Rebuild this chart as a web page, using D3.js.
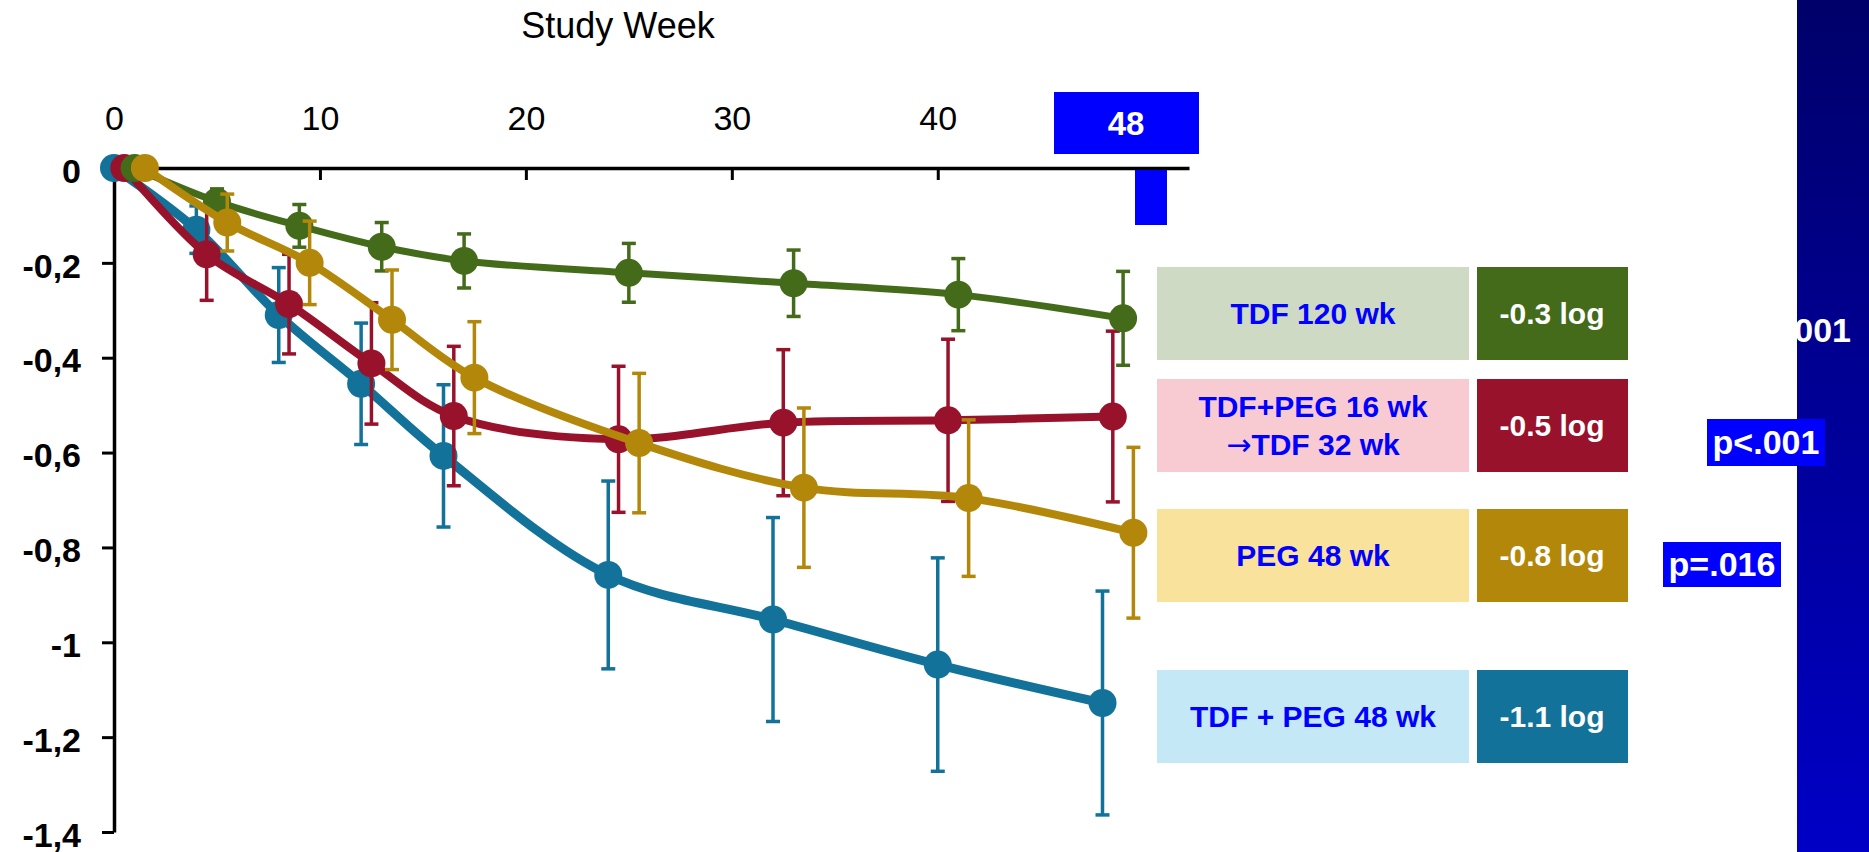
<!DOCTYPE html>
<html>
<head>
<meta charset="utf-8">
<script src="https://cdn.jsdelivr.net/npm/d3@7"></script>
<style>
  html, body { margin: 0; padding: 0; background: #fff; }
  svg { display: block; font-family: "Liberation Sans", Arial, sans-serif; }
</style>
</head>
<body>
<svg id="chart" width="1869" height="852"></svg>
<script>
// Study visits (weeks) and per-arm change from baseline (log10), with error half-widths
const weeks = [0, 4, 8, 12, 16, 24, 32, 40, 48];
const xTicks = [0, 10, 20, 30, 40, 50];
const yTicks = [0, -0.2, -0.4, -0.6, -0.8, -1, -1.2, -1.4];

const armNames = ["TDF + PEG 48 wk", "TDF+PEG 16 wk\n\u2192TDF 32 wk", "TDF 120 wk", "PEG 48 wk"];
const armOffsets = [0, 0.5, 1, 1.5];

const tdfPeg48 = [0, -0.13, -0.31, -0.455, -0.607, -0.858, -0.952, -1.047, -1.128];
const tdfPeg48Err = [0, 0.05, 0.1, 0.128, 0.15, 0.198, 0.215, 0.225, 0.236];

const tdfPeg16 = [0, -0.182, -0.287, -0.412, -0.523, -0.572, -0.537, -0.532, -0.524];
const tdfPeg16Err = [0, 0.097, 0.105, 0.128, 0.147, 0.154, 0.154, 0.171, 0.18];

const tdf120 = [0, -0.071, -0.122, -0.166, -0.196, -0.221, -0.243, -0.267, -0.317];
const tdf120Err = [0, 0.027, 0.045, 0.051, 0.057, 0.062, 0.07, 0.076, 0.099];

const peg48 = [0, -0.115, -0.2, -0.32, -0.442, -0.58, -0.674, -0.696, -0.769];
const peg48Err = [0, 0.06, 0.088, 0.105, 0.118, 0.147, 0.168, 0.165, 0.18];

const pValues = ["p<.001", "p<.001", "p=.016"];

// Styling
const armColors = ["#137299", "#98122C", "#436B1A", "#B3880A"];
const armLight = ["#C5E8F7", "#F8CAD2", "#CFDAC4", "#F8E29C"];
const armWidths = [9, 8, 7, 8];

const svg = d3.select("#chart");

const x = d3.scaleLinear().domain([0, 52.2]).range([114, 1189]);
const y = d3.scaleLinear().domain([0, -1.4]).range([168, 832]);

const commaLocale = d3.formatLocale({decimal: ",", thousands: ".", grouping: [3], currency: ["", ""], minus: "-"});
const dotLocale = d3.formatLocale({decimal: ".", thousands: ",", grouping: [3], currency: ["", ""], minus: "-"});

// Right-hand navy band
const defs = svg.append("defs");
const grad = defs.append("linearGradient").attr("id", "band").attr("x1", 0).attr("y1", 0).attr("x2", 0).attr("y2", 1);
grad.append("stop").attr("offset", "0%").attr("stop-color", "#00006A");
grad.append("stop").attr("offset", "100%").attr("stop-color", "#0000C6");
svg.append("rect").attr("x", 1797).attr("y", 0).attr("width", 72).attr("height", 852).attr("fill", "url(#band)");

// Title
svg.append("text").attr("x", 618).attr("y", 38).attr("text-anchor", "middle")
  .attr("font-size", 36).attr("fill", "#000").text("Study Week");

// X axis along the top, ticks pointing down into the plot
const xAxis = svg.append("g").attr("transform", `translate(0,${y(0)})`)
  .call(d3.axisTop(x).tickValues(xTicks).tickSizeInner(-12).tickSizeOuter(0).tickPadding(38)
    .tickFormat(d => d === 50 ? "" : d3.format("d")(d)));
xAxis.select(".domain").attr("stroke", "#000").attr("stroke-width", 3.5);
xAxis.selectAll(".tick line").attr("stroke", "#000").attr("stroke-width", 3);
xAxis.selectAll(".tick text").attr("font-size", 34).attr("fill", "#000").attr("font-family", "Liberation Sans, Arial");

// Y axis
const yAxis = svg.append("g").attr("transform", `translate(${x(0)},0)`)
  .call(d3.axisLeft(y).tickValues(yTicks).tickSizeInner(12).tickSizeOuter(0).tickPadding(21)
    .tickFormat(commaLocale.format("~f")));
yAxis.select(".domain").attr("stroke", "#000").attr("stroke-width", 3.5);
yAxis.selectAll(".tick line").attr("stroke", "#000").attr("stroke-width", 3);
yAxis.selectAll(".tick text").attr("font-size", 34).attr("font-weight", "bold").attr("fill", "#000")
  .attr("dy", "0.42em").attr("font-family", "Liberation Sans, Arial");

// Highlight of week 48
const hx = 1126;
svg.append("rect").attr("x", 1054).attr("y", 92).attr("width", 145).attr("height", 62).attr("fill", "#0000FF");
svg.append("text").attr("x", hx).attr("y", 135).attr("text-anchor", "middle")
  .attr("font-size", 33).attr("font-weight", "bold").attr("fill", "#fff").text("48");
svg.append("rect").attr("x", 1135).attr("y", 170).attr("width", 32).attr("height", 55).attr("fill", "#0000FF");

// Series
const arms = [
  {name: armNames[0], values: tdfPeg48, err: tdfPeg48Err},
  {name: armNames[1], values: tdfPeg16, err: tdfPeg16Err},
  {name: armNames[2], values: tdf120, err: tdf120Err},
  {name: armNames[3], values: peg48, err: peg48Err}
].map((a, i) => ({
  ...a,
  color: armColors[i],
  light: armLight[i],
  width: armWidths[i],
  points: weeks.map((w, j) => ({w: w + armOffsets[i], v: a.values[j], e: a.err[j]}))
}));

const line = d3.line().x(d => x(d.w)).y(d => y(d.v)).curve(d3.curveCatmullRom.alpha(0.5));
const cap = 7;

const seriesG = svg.append("g");
arms.forEach(a => {
  const g = seriesG.append("g");
  const bars = a.points.filter(d => d.e > 0);
  g.selectAll("line.bar").data(bars).join("line")
    .attr("x1", d => x(d.w)).attr("x2", d => x(d.w))
    .attr("y1", d => y(d.v + d.e)).attr("y2", d => y(d.v - d.e))
    .attr("stroke", a.color).attr("stroke-width", 3.5);
  g.selectAll("line.top").data(bars).join("line")
    .attr("x1", d => x(d.w) - cap).attr("x2", d => x(d.w) + cap)
    .attr("y1", d => y(d.v + d.e)).attr("y2", d => y(d.v + d.e))
    .attr("stroke", a.color).attr("stroke-width", 3.5);
  g.selectAll("line.bot").data(bars).join("line")
    .attr("x1", d => x(d.w) - cap).attr("x2", d => x(d.w) + cap)
    .attr("y1", d => y(d.v - d.e)).attr("y2", d => y(d.v - d.e))
    .attr("stroke", a.color).attr("stroke-width", 3.5);
  g.append("path").datum(a.points).attr("d", line)
    .attr("fill", "none").attr("stroke", a.color).attr("stroke-width", a.width)
    .attr("stroke-linejoin", "round");
  g.selectAll("circle").data(a.points).join("circle")
    .attr("cx", d => x(d.w)).attr("cy", d => y(d.v)).attr("r", 14).attr("fill", a.color);
});

// Legend with final-week change
const legendRows = [
  {arm: arms[2], top: 267},
  {arm: arms[1], top: 379},
  {arm: arms[3], top: 509},
  {arm: arms[0], top: 670}
];
const rowH = 93;
const fmt = dotLocale.format(".1f");
const legend = svg.append("g");
legendRows.forEach(r => {
  const a = r.arm;
  legend.append("rect").attr("x", 1157).attr("y", r.top).attr("width", 312).attr("height", rowH).attr("fill", a.light);
  legend.append("rect").attr("x", 1477).attr("y", r.top).attr("width", 151).attr("height", rowH).attr("fill", a.color);
  const lines = a.name.split("\n");
  const lh = 38;
  const cy = r.top + rowH / 2;
  lines.forEach((t, k) => {
    const txt = legend.append("text").attr("x", 1313)
      .attr("y", cy + (k - (lines.length - 1) / 2) * lh)
      .attr("dy", "0.36em").attr("text-anchor", "middle")
      .attr("font-size", 30).attr("font-weight", "bold").attr("fill", "#0000FF");
    // the arrow glyph is drawn from a face with a full-width arrow
    if (t.startsWith("\u2192")) {
      txt.append("tspan").attr("font-family", "DejaVu Sans").attr("font-weight", "normal").text("\u2192");
      txt.append("tspan").text(t.slice(1));
    } else {
      txt.text(t);
    }
  });
  legend.append("text").attr("x", 1552).attr("y", cy).attr("dy", "0.36em").attr("text-anchor", "middle")
    .attr("font-size", 30).attr("font-weight", "bold").attr("fill", "#fff")
    .text(fmt(a.values[a.values.length - 1]) + " log");
});

// p-values
svg.append("text").attr("x", 1851).attr("y", 330).attr("dy", "0.36em").attr("text-anchor", "end")
  .attr("font-size", 34).attr("font-weight", "bold").attr("fill", "#fff").text(pValues[0]);
svg.append("rect").attr("x", 1707).attr("y", 419).attr("width", 118).attr("height", 47).attr("fill", "#0000FF");
svg.append("text").attr("x", 1766).attr("y", 442).attr("dy", "0.36em").attr("text-anchor", "middle")
  .attr("font-size", 34).attr("font-weight", "bold").attr("fill", "#fff").text(pValues[1]);
svg.append("rect").attr("x", 1663).attr("y", 542).attr("width", 118).attr("height", 45).attr("fill", "#0000FF");
svg.append("text").attr("x", 1722).attr("y", 564).attr("dy", "0.36em").attr("text-anchor", "middle")
  .attr("font-size", 34).attr("font-weight", "bold").attr("fill", "#fff").text(pValues[2]);
</script>
</body>
</html>
